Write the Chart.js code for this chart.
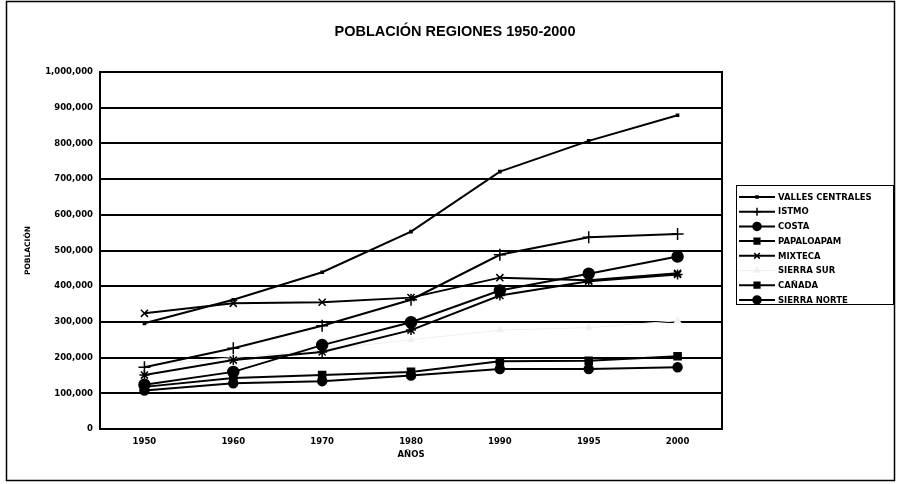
<!DOCTYPE html>
<html>
<head>
<meta charset="utf-8">
<script src="https://cdn.jsdelivr.net/npm/chart.js@4/dist/chart.umd.min.js"></script>
<style>
  html, body { margin: 0; padding: 0; background: #fff; }
  #wrap { width: 900px; height: 484px; }
</style>
</head>
<body>
<div id="wrap"><canvas id="lineChart"></canvas></div>
<script>
// Población por región, 1950-2000
const years = ["1950", "1960", "1970", "1980", "1990", "1995", "2000"];
const vallesCentrales = [296000, 362000, 439000, 553000, 721000, 807000, 879000];
const istmo = [173000, 226000, 289000, 362000, 488000, 537000, 546000];
const costa = [124000, 160000, 235000, 299000, 388000, 435000, 483000];
const papaloapam = [151000, 193000, 216000, 277000, 374000, 414000, 433000];
const mixteca = [324000, 352000, 355000, 368000, 424000, 417000, 436000];
const sierraSur = [178000, 200000, 222000, 250000, 277000, 284000, 303000];
const canada = [118000, 143000, 151000, 160000, 190000, 191000, 204000];
const sierraNorte = [108000, 128000, 134000, 150000, 168000, 168000, 173000];

const font = '"DejaVu Sans"';

function serie(label, data, pointStyle, radius, color, width) {
  return {
    label: label,
    data: data,
    borderColor: color,
    backgroundColor: color,
    borderWidth: width,
    pointStyle: pointStyle,
    pointRadius: radius,
    pointBorderWidth: 1.5,
    tension: 0
  };
}

// leyenda y marco dibujados a mano
const extras = {
  id: "extras",
  beforeDatasetsDraw(chart) {
    const ctx = chart.ctx;
    const a = chart.chartArea;
    ctx.save();
    ctx.strokeStyle = "#000";
    ctx.lineWidth = 2;
    ctx.strokeRect(a.left, a.top, a.right - a.left, a.bottom - a.top);
    ctx.restore();
  },
  afterDraw(chart) {
    const ctx = chart.ctx;
    ctx.save();
    // marco exterior
    ctx.strokeStyle = "#000";
    ctx.lineWidth = 1.5;
    ctx.strokeRect(6.5, 1.5, 888, 479);
    // título
    ctx.fillStyle = "#000";
    ctx.font = 'bold 14.5px "Liberation Sans"';
    ctx.textAlign = "center";
    ctx.textBaseline = "middle";
    ctx.fillText("POBLACIÓN REGIONES 1950-2000", 455, 32);
    // leyenda
    ctx.lineWidth = 1;
    ctx.strokeRect(736.5, 185.5, 157, 119);
    ctx.font = "bold 8.5px " + font;
    ctx.textAlign = "left";
    chart.data.datasets.forEach((ds, i) => {
      const y = 197 + i * 14.7;
      ctx.strokeStyle = ds.borderColor;
      ctx.fillStyle = ds.borderColor;
      ctx.lineWidth = ds.borderWidth;
      ctx.beginPath();
      ctx.moveTo(739, y);
      ctx.lineTo(775, y);
      ctx.stroke();
      const style = ds.label === "PAPALOAPAM" ? "rect" : ds.pointStyle;
      ctx.lineWidth = 1.5;
      Chart.helpers.drawPoint(ctx, { pointStyle: style, radius: Math.min(ds.pointRadius, 4), rotation: 0, borderWidth: 1.5 }, 757, y);
      ctx.fillStyle = "#000";
      ctx.fillText(ds.label, 778, y + 0.5);
    });
    ctx.restore();
  }
};

const ctxLine = document.getElementById("lineChart").getContext("2d");
const lineChart = new Chart(ctxLine, {
  type: "line",
  data: {
    labels: years,
    datasets: [
      serie("VALLES CENTRALES", vallesCentrales, "rect", 1.5, "#000", 2),
      serie("ISTMO", istmo, "cross", 6, "#000", 2),
      serie("COSTA", costa, "circle", 5.5, "#000", 2),
      serie("PAPALOAPAM", papaloapam, "star", 5, "#000", 2),
      serie("MIXTECA", mixteca, "crossRot", 5, "#000", 2),
      serie("SIERRA SUR", sierraSur, "triangle", 3, "#efefef", 1),
      serie("CAÑADA", canada, "rect", 5, "#000", 2),
      serie("SIERRA NORTE", sierraNorte, "circle", 4.5, "#000", 2)
    ]
  },
  plugins: [extras],
  options: {
    responsive: true,
    maintainAspectRatio: false,
    animation: false,
    layout: { padding: { left: 6, right: 178, top: 72, bottom: 20 } },
    plugins: {
      legend: { display: false },
      title: { display: false },
      tooltip: { enabled: false }
    },
    scales: {
      x: {
        offset: true,
        grid: { display: false, drawTicks: false },
        border: { display: true, color: "#000", width: 2 },
        ticks: { color: "#000", padding: 8, font: { family: font, size: 8.5, weight: "bold" } },
        title: { display: true, text: "AÑOS", color: "#000", padding: { top: 0, bottom: 4 }, font: { family: font, size: 8.5, weight: "bold" } },
        afterFit(scale) { scale.height = 35; }
      },
      y: {
        min: 0,
        max: 1000000,
        grid: { color: "#000", lineWidth: 2, drawTicks: false },
        border: { display: true, color: "#000", width: 2 },
        ticks: {
          stepSize: 100000,
          color: "#000",
          padding: 7,
          font: { family: font, size: 8.5, weight: "bold" },
          callback: (v) => v.toLocaleString("en-US")
        },
        title: { display: true, text: "POBLACIÓN", color: "#000", padding: { top: 18, bottom: 0 }, font: { family: font, size: 7.5, weight: "bold" } },
        afterFit(scale) { scale.width = 94; }
      }
    }
  }
});
</script>
</body>
</html>
